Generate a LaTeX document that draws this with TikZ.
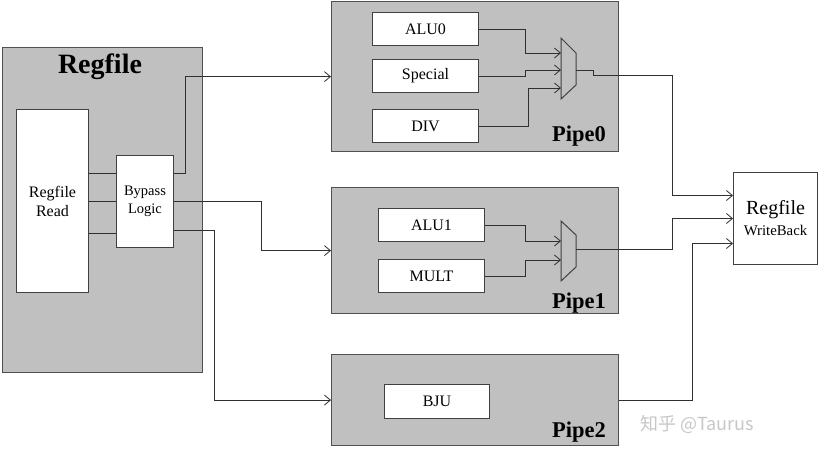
\documentclass[tikz,border=0pt]{standalone}
\usepackage{fontspec}
\setmainfont{Liberation Serif}
\newfontfamily\cjkfont{Noto Sans CJK SC}
\usetikzlibrary{arrows.meta,calc}
\definecolor{stagefill}{HTML}{C0C0C0}
\definecolor{stageline}{HTML}{505050}
\definecolor{unitline}{HTML}{404040}
\definecolor{wirecol}{HTML}{303030}
\begin{document}
\begin{tikzpicture}[x=1pt,y=-1pt,
  stage/.style={draw=stageline, fill=stagefill, line width=1.2pt, inner sep=0pt, anchor=north west},
  unit/.style={draw=unitline, fill=white, line width=1pt, inner sep=0pt, anchor=north west, align=center},
  wire/.style={draw=wirecol, line width=0.9pt},
  arr/.style={wire, -{Straight Barb[length=6pt,width=10pt,line width=0.8pt]}},
  stagelabel/.style={font=\bfseries\fontsize{22.5}{24}\selectfont, anchor=base, inner sep=0pt},
  unittext/.style={font=\fontsize{16}{19}\selectfont},
  muxline/.style={draw=unitline, line width=1pt}
]
\useasboundingbox (0,0) rectangle (818,455);

% ---- register file read stage ----
\node[stage, minimum width=200pt, minimum height=325pt] (rf) at (2,47) {};
\node[font=\bfseries\fontsize{28}{30}\selectfont, anchor=base, inner sep=0pt] (rftitle) at (100,73) {Regfile};
\node[unit, unittext, minimum width=72pt, minimum height=183pt] (read) at (16,109) {Regfile\\Read};
\node[unit, font=\fontsize{14.5}{18}\selectfont, minimum width=57pt, minimum height=92pt] (bypass) at (116,155) {Bypass\\Logic};

\draw[wire] ([yshift=28pt]bypass.west -| read.east) -- ([yshift=28pt]bypass.west);
\draw[wire] (bypass.west -| read.east) -- (bypass.west);
\draw[wire] ([yshift=-32pt]bypass.west -| read.east) -- ([yshift=-32pt]bypass.west);

% ---- pipe 0 ----
\node[stage, minimum width=287pt, minimum height=150pt] (pipe0) at (331,1) {};
\node[stagelabel] (pipe0lbl) at (579,141) {Pipe0};
\node[unit, unittext, minimum width=106pt, minimum height=33pt] (alu0) at (372,12) {ALU0};
\node[unit, unittext, minimum width=106pt, minimum height=33pt] (special) at (372,59) {Special};
\node[unit, unittext, minimum width=106pt, minimum height=33pt] (div) at (372,109) {DIV};
\draw[muxline] (561,38) -- (576,53) -- (576,85) -- (561,99) -- cycle;
\coordinate (m0a) at (561,53);
\coordinate (m0b) at (561,70);
\coordinate (m0c) at (561,88);
\coordinate (m0out) at (576,70);

% ---- pipe 1 ----
\node[stage, minimum width=287pt, minimum height=126pt] (pipe1) at (331,187) {};
\node[stagelabel] (pipe1lbl) at (579,308) {Pipe1};
\node[unit, unittext, minimum width=106pt, minimum height=33pt] (alu1) at (378,208) {ALU1};
\node[unit, unittext, minimum width=106pt, minimum height=33pt] (mult) at (378,259) {MULT};
\draw[muxline] (561,221) -- (576,235) -- (576,267) -- (561,281) -- cycle;
\coordinate (m1a) at (561,241);
\coordinate (m1b) at (561,260);
\coordinate (m1out) at (576,249);

% ---- pipe 2 ----
\node[stage, minimum width=287pt, minimum height=91pt] (pipe2) at (331,354) {};
\node[stagelabel] (pipe2lbl) at (579,437) {Pipe2};
\node[unit, unittext, minimum width=105pt, minimum height=34pt] (bju) at (384,384) {BJU};

% ---- write back ----
\node[unit, font=\fontsize{20}{21}\selectfont, minimum width=84pt, minimum height=92pt] (wb) at (733,172)
  {Regfile\\{\fontsize{14.8}{21}\selectfont WriteBack}};

% ---- bypass to pipes ----
\draw[arr] ([yshift=28pt]bypass.east) -- ++(11,0) |- (pipe0.west);
\draw[arr] (bypass.east) -- ++(87,0) |- (pipe1.west);
\draw[arr] ([yshift=-29pt]bypass.east) -- ++(40,0) |- (pipe2.west);

% ---- units to muxes ----
\draw[arr] (alu0.east) -- ++(46,0) |- (m0a);
\draw[arr] (special.east) -- ++(46,0) |- (m0b);
\draw[arr] (div.east) -- ++(49,0) |- (m0c);
\draw[arr] (alu1.east) -- ++(40,0) |- (m1a);
\draw[arr] (mult.east) -- ++(40,0) |- (m1b);

% ---- results to write back ----
\draw[arr] (m0out) -- ++(17,0) -- ++(0,5) -- ++(79,0) |- ([yshift=23pt]wb.west);
\draw[arr] (m1out) -- ++(96,0) |- (wb.west);
\draw[arr] (pipe2.east) -- ++(73,0) |- ([yshift=-25pt]wb.west);

% ---- watermark ----
\node[font=\cjkfont\fontsize{18}{20}\selectfont, text=black!22, anchor=west, inner sep=0pt] (mark) at (640,424) {知乎 @Taurus};
\end{tikzpicture}
\end{document}
